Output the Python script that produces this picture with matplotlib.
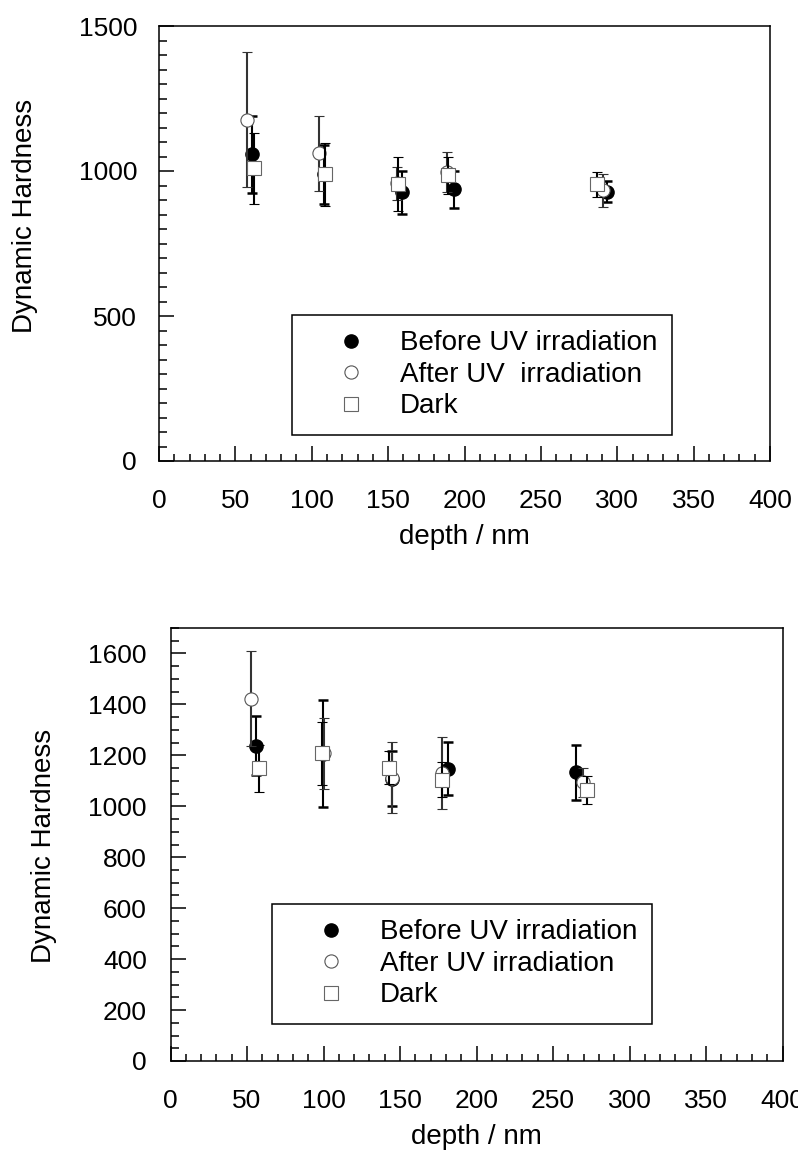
import matplotlib
matplotlib.use("Agg")
import matplotlib.pyplot as plt
from matplotlib.ticker import MultipleLocator

plt.rcParams["font.family"] = ["Liberation Sans", "DejaVu Sans"]

# Top panel data (depth in nm, dynamic hardness, error)
top_before_x = [60.8, 108.0, 159.3, 193.1, 293.3]
top_before_y = [1058, 988, 926, 937, 929]
top_before_err = [133, 102, 75, 64, 37]

top_after_x = [57.9, 104.8, 156.0, 188.3, 290.4]
top_after_y = [1177, 1061, 957, 998, 933]
top_after_err = [232, 129, 57, 69, 56]

top_dark_x = [62.3, 108.9, 156.4, 189.4, 286.7]
top_dark_y = [1009, 988, 956, 985, 954]
top_dark_err = [123, 107, 94, 64, 44]

# Bottom panel data
bot_before_x = [55.9, 99.5, 145.0, 181.6, 264.8]
bot_before_y = [1238, 1207, 1108, 1148, 1133]
bot_before_err = [116, 209, 108, 104, 108]

bot_after_x = [52.6, 100.5, 145.0, 177.2, 269.8]
bot_after_y = [1422, 1208, 1113, 1130, 1094]
bot_after_err = [186, 140, 140, 142, 56]

bot_dark_x = [57.8, 98.8, 142.8, 177.6, 272.0]
bot_dark_y = [1149, 1208, 1152, 1105, 1063]
bot_dark_err = [92, 123, 64, 70, 55]

top_labels = ["Before UV irradiation", "After UV  irradiation", "Dark"]
bot_labels = ["Before UV irradiation", "After UV irradiation", "Dark"]

W, H = 798, 1159


def draw_panel(ax, before, after, dark, labels, ymax, ymajor, ypad, legend_xy, fig):
    bar = dict(linestyle="none", capsize=3.6, capthick=1.8, elinewidth=1.5)

    b = ax.errorbar(before[0], before[1], yerr=before[2], marker="o", ms=9.5,
                    mfc="black", mec="black", ecolor="black", zorder=3, **bar)
    a = ax.errorbar(after[0], after[1], yerr=after[2], marker="o", ms=9.5,
                    mfc="white", mec="#555555", mew=0.8, ecolor="#333333",
                    zorder=4, **bar)
    d = ax.errorbar(dark[0], dark[1], yerr=dark[2], marker="s", ms=10.5,
                    mfc="white", mec="#666666", mew=0.8, ecolor="black",
                    zorder=5, **bar)

    ax.set_xlim(0, 400)
    ax.set_ylim(0, ymax)
    ax.xaxis.set_major_locator(MultipleLocator(50))
    ax.xaxis.set_minor_locator(MultipleLocator(10))
    ax.yaxis.set_major_locator(MultipleLocator(ymajor))
    ax.yaxis.set_minor_locator(MultipleLocator(50))
    ax.tick_params(which="both", direction="in", top=False, right=False,
                   width=1.1, colors="black")
    ax.tick_params(which="major", length=10.8, labelsize=19)
    ax.tick_params(which="minor", length=5.4)
    ax.tick_params(axis="x", which="major", pad=20)
    ax.tick_params(axis="y", which="major", pad=ypad)
    for s in ax.spines.values():
        s.set_linewidth(1.1)

    ax.set_xlabel("depth / nm", fontsize=20, labelpad=8)

    # legend shows markers only
    leg = ax.legend([b[0], a[0], d[0]], labels, loc="upper left",
                    bbox_to_anchor=(legend_xy[0] / W, 1 - legend_xy[1] / H),
                    bbox_transform=fig.transFigure, borderaxespad=0,
                    fontsize=20, frameon=True, fancybox=False, framealpha=1,
                    edgecolor="black", borderpad=0.55, handlelength=3.14,
                    handletextpad=0.19, labelspacing=0.2, numpoints=1)
    leg.get_frame().set_linewidth(1.1)


fig = plt.figure(figsize=(W / 100, H / 100), dpi=100)

ax1 = fig.add_axes([159 / W, 1 - 461 / H, (770 - 159) / W, (461 - 26) / H])
draw_panel(ax1,
           (top_before_x, top_before_y, top_before_err),
           (top_after_x, top_after_y, top_after_err),
           (top_dark_x, top_dark_y, top_dark_err),
           top_labels, 1500, 500, 15.8, (292, 315), fig)
fig.text(25 / W, 1 - 216 / H, "Dynamic Hardness", rotation=90,
         ha="center", va="center", fontsize=20)

ax2 = fig.add_axes([170.5 / W, 1 - 1061 / H, (782.5 - 170.5) / W, (1061 - 628) / H])
draw_panel(ax2,
           (bot_before_x, bot_before_y, bot_before_err),
           (bot_after_x, bot_after_y, bot_after_err),
           (bot_dark_x, bot_dark_y, bot_dark_err),
           bot_labels, 1700, 200, 17, (272, 904), fig)
fig.text(44 / W, 1 - 846 / H, "Dynamic Hardness", rotation=90,
         ha="center", va="center", fontsize=20)

fig.savefig("out.png", dpi=100)
